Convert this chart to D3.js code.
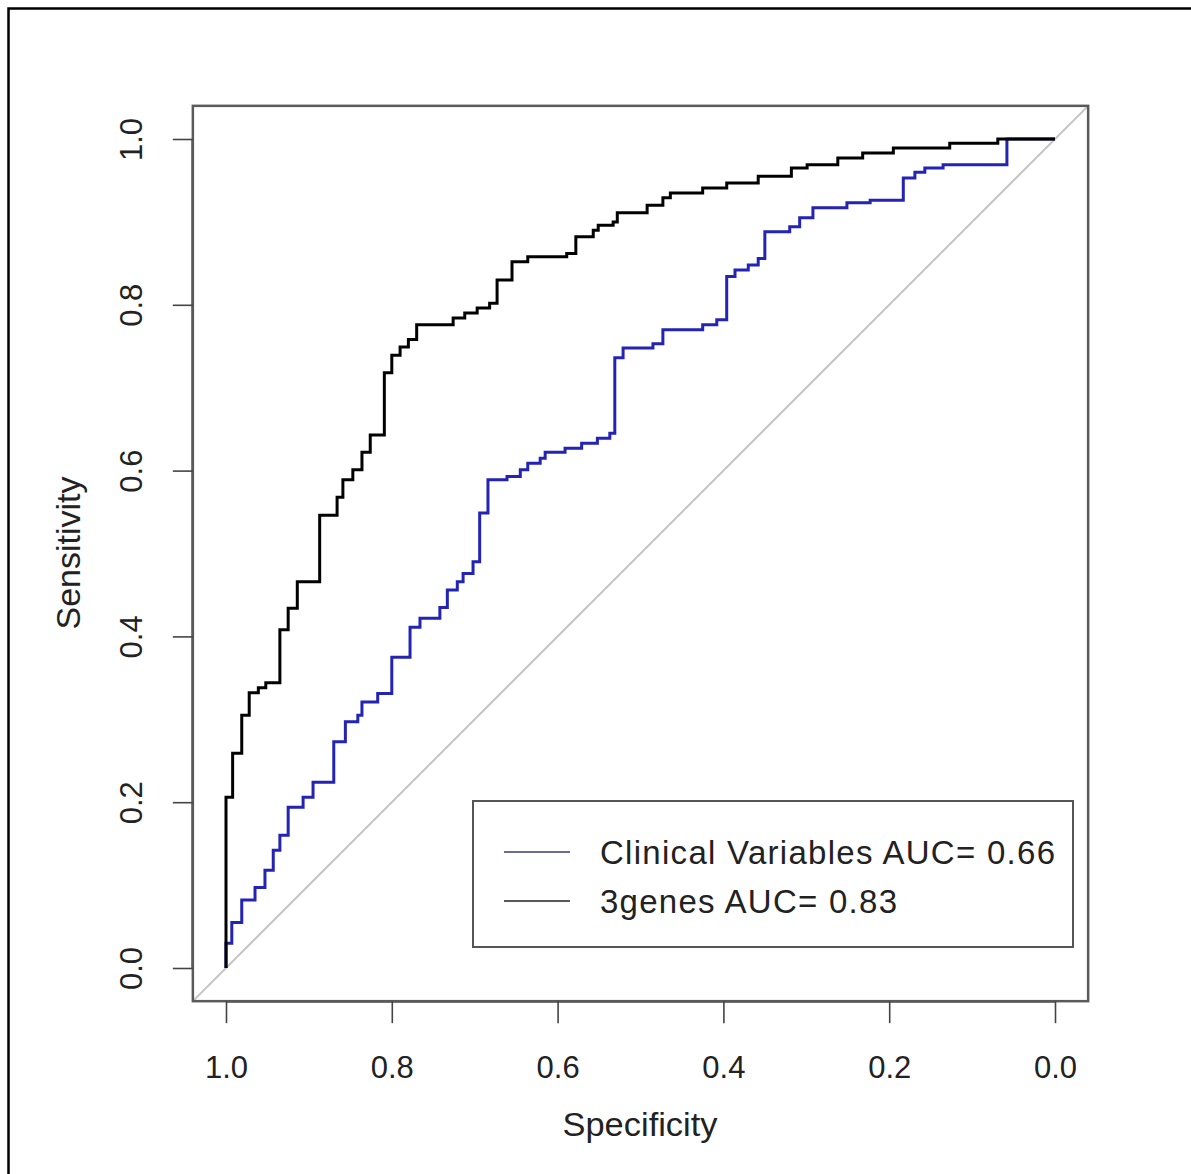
<!DOCTYPE html>
<html>
<head>
<meta charset="utf-8">
<script src="https://cdn.jsdelivr.net/npm/d3@7"></script>
<style>
  html, body { margin: 0; padding: 0; background: #fff; overflow: hidden; }
  svg { display: block; }
  text { font-family: "Liberation Sans", Arial, Helvetica, sans-serif; fill: #222; }
</style>
</head>
<body>
<svg id="chart" width="1191" height="1174"></svg>
<script>
// ---- Data ----
const tickValues = [1.0, 0.8, 0.6, 0.4, 0.2, 0.0];

// 3genes ROC curve corners (specificity, sensitivity)
const genesSpec = [1.000,1.000,0.992,0.992,0.981,0.981,0.972,0.972,0.961,0.961,0.952,0.952,0.935,0.935,0.925,0.925,0.914,0.914,0.887,0.887,0.866,0.866,0.859,0.859,0.847,0.847,0.836,0.836,0.826,0.826,0.809,0.809,0.800,0.800,0.790,0.790,0.780,0.780,0.770,0.770,0.726,0.726,0.712,0.712,0.697,0.697,0.682,0.682,0.673,0.673,0.655,0.655,0.636,0.636,0.589,0.589,0.578,0.578,0.557,0.557,0.551,0.551,0.533,0.533,0.528,0.528,0.492,0.492,0.473,0.473,0.464,0.464,0.425,0.425,0.396,0.396,0.358,0.358,0.318,0.318,0.299,0.299,0.262,0.262,0.232,0.232,0.195,0.195,0.127,0.127,0.069,0.069,0.000];
const genesSens = [0.000,0.206,0.206,0.259,0.259,0.305,0.305,0.332,0.332,0.338,0.338,0.344,0.344,0.408,0.408,0.434,0.434,0.466,0.466,0.546,0.546,0.568,0.568,0.589,0.589,0.601,0.601,0.622,0.622,0.643,0.643,0.718,0.718,0.739,0.739,0.749,0.749,0.758,0.758,0.776,0.776,0.784,0.784,0.790,0.790,0.796,0.796,0.802,0.802,0.830,0.830,0.852,0.852,0.858,0.858,0.862,0.862,0.882,0.882,0.890,0.890,0.896,0.896,0.900,0.900,0.911,0.911,0.920,0.920,0.929,0.929,0.935,0.935,0.941,0.941,0.947,0.947,0.955,0.955,0.965,0.965,0.969,0.969,0.977,0.977,0.983,0.983,0.989,0.989,0.995,0.995,1.000,1.000];

// Clinical Variables ROC curve corners (specificity, sensitivity)
const clinSpec = [1.000,1.000,0.993,0.993,0.981,0.981,0.965,0.965,0.953,0.953,0.943,0.943,0.935,0.935,0.925,0.925,0.907,0.907,0.895,0.895,0.870,0.870,0.856,0.856,0.841,0.841,0.836,0.836,0.817,0.817,0.800,0.800,0.778,0.778,0.766,0.766,0.742,0.742,0.733,0.733,0.721,0.721,0.714,0.714,0.702,0.702,0.694,0.694,0.684,0.684,0.661,0.661,0.645,0.645,0.636,0.636,0.621,0.621,0.615,0.615,0.591,0.591,0.571,0.571,0.552,0.552,0.537,0.537,0.531,0.531,0.521,0.521,0.485,0.485,0.473,0.473,0.425,0.425,0.408,0.408,0.396,0.396,0.386,0.386,0.370,0.370,0.358,0.358,0.350,0.350,0.320,0.320,0.308,0.308,0.292,0.292,0.251,0.251,0.223,0.223,0.183,0.183,0.169,0.169,0.157,0.157,0.135,0.135,0.058,0.058,0.000];
const clinSens = [0.000,0.030,0.030,0.055,0.055,0.082,0.082,0.097,0.097,0.118,0.118,0.142,0.142,0.160,0.160,0.194,0.194,0.206,0.206,0.224,0.224,0.273,0.273,0.297,0.297,0.305,0.305,0.321,0.321,0.331,0.331,0.375,0.375,0.411,0.411,0.422,0.422,0.435,0.435,0.456,0.456,0.466,0.466,0.476,0.476,0.490,0.490,0.549,0.549,0.589,0.589,0.593,0.593,0.601,0.601,0.609,0.609,0.615,0.615,0.622,0.622,0.627,0.627,0.633,0.633,0.639,0.639,0.645,0.645,0.736,0.736,0.748,0.748,0.753,0.753,0.770,0.770,0.776,0.776,0.782,0.782,0.834,0.834,0.842,0.842,0.848,0.848,0.856,0.856,0.888,0.888,0.894,0.894,0.905,0.905,0.917,0.917,0.923,0.923,0.926,0.926,0.953,0.953,0.960,0.960,0.965,0.965,0.969,0.969,1.000,1.000];

const seriesNames = ["Clinical Variables AUC= 0.66", "3genes AUC= 0.83"];
const seriesColors = ["#2323b4", "#000000"];
const legendColors = ["#3a3a78", "#222222"];
const xTitle = "Specificity";
const yTitle = "Sensitivity";

// ---- Layout ----
const svg = d3.select("#chart");
const x = d3.scaleLinear().domain([1, 0]).range([226, 1055]);
const y = d3.scaleLinear().domain([0, 1]).range([968, 139]);
const pad = 0.04;
const x0 = x(1 + pad), x1 = x(0 - pad), y0 = y(0 - pad), y1 = y(1 + pad);

// outer frame
svg.append("rect").attr("x", 8.5).attr("y", 8.5).attr("width", 1400).attr("height", 1400)
  .attr("fill", "none").attr("stroke", "#000").attr("stroke-width", 2.5);

// clip for plot region
svg.append("clipPath").attr("id", "clip").append("rect")
  .attr("x", x0).attr("y", y1).attr("width", x1 - x0).attr("height", y0 - y1);

const plot = svg.append("g").attr("clip-path", "url(#clip)");

// diagonal reference line
plot.append("line")
  .attr("x1", x(1 + pad)).attr("y1", y(0 - pad))
  .attr("x2", x(0 - pad)).attr("y2", y(1 + pad))
  .attr("stroke", "#c4c4c4").attr("stroke-width", 2);

const line = d3.line().x(d => x(d[0])).y(d => y(d[1]));
const clin = d3.zip(clinSpec, clinSens);
const genes = d3.zip(genesSpec, genesSens);

plot.append("path").datum(clin).attr("d", line)
  .attr("fill", "none").attr("stroke", seriesColors[0]).attr("stroke-width", 3)
  .attr("stroke-linejoin", "miter");
plot.append("path").datum(genes).attr("d", line)
  .attr("fill", "none").attr("stroke", seriesColors[1]).attr("stroke-width", 3)
  .attr("stroke-linejoin", "miter");

// plot box
svg.append("rect").attr("x", x0).attr("y", y1).attr("width", x1 - x0).attr("height", y0 - y1)
  .attr("fill", "none").attr("stroke", "#5a5a5a").attr("stroke-width", 2.5);

// x axis
const xAxis = d3.axisBottom(x).tickValues(tickValues).tickFormat(d3.format(".1f"))
  .tickSize(22).tickSizeOuter(0);
const gx = svg.append("g").attr("transform", `translate(0,${y0})`).call(xAxis);
gx.select(".domain").attr("d", `M${x(1)},0.5H${x(0)}`).attr("stroke", "#5a5a5a").attr("stroke-width", 2);
gx.selectAll(".tick line").attr("stroke", "#444").attr("stroke-width", 1.6);
gx.selectAll(".tick text").attr("y", 0).attr("dy", 0)
  .attr("transform", "translate(0,77)")
  .style("font-size", "31px").attr("fill", "#222")
  .style("font-family", "'Liberation Sans', Arial, sans-serif");

// y axis
const yAxis = d3.axisLeft(y).tickValues(tickValues.slice().reverse()).tickFormat(d3.format(".1f"))
  .tickSize(20).tickSizeOuter(0);
const gy = svg.append("g").attr("transform", `translate(${x0},0)`).call(yAxis);
gy.select(".domain").attr("d", `M-0.5,${y(0)}V${y(1)}`).attr("stroke", "#5a5a5a").attr("stroke-width", 2);
gy.selectAll(".tick line").attr("stroke", "#444").attr("stroke-width", 1.6);
gy.selectAll(".tick text").attr("x", 0).attr("dy", 0)
  .attr("transform", "translate(-62,0) rotate(-90)")
  .attr("text-anchor", "middle").attr("dy", "0.36em")
  .style("font-size", "31px").attr("fill", "#222")
  .style("font-family", "'Liberation Sans', Arial, sans-serif");

// axis titles
svg.append("text").attr("x", 640).attr("y", 1136).attr("text-anchor", "middle")
  .style("font-size", "33px").attr("textLength", 155).attr("lengthAdjust", "spacingAndGlyphs")
  .text(xTitle);
svg.append("text").attr("transform", "translate(80,553) rotate(-90)")
  .attr("text-anchor", "middle").style("font-size", "33px")
  .attr("textLength", 153).attr("lengthAdjust", "spacingAndGlyphs").text(yTitle);

// legend
const legendWidths = [455, 297];
const lg = svg.append("g");
lg.append("rect").attr("x", 473).attr("y", 801).attr("width", 600).attr("height", 146)
  .attr("fill", "#fff").attr("stroke", "#555").attr("stroke-width", 2);
seriesNames.forEach((name, i) => {
  const cy = 852 + i * 49;
  lg.append("line").attr("x1", 504).attr("x2", 570).attr("y1", cy).attr("y2", cy)
    .attr("stroke", legendColors[i]).attr("stroke-width", 1.5);
  lg.append("text").attr("x", 600).attr("y", cy + 12)
    .style("font-size", "33px")
    .attr("textLength", legendWidths[i]).attr("lengthAdjust", "spacing")
    .text(name);
});
</script>
</body>
</html>
